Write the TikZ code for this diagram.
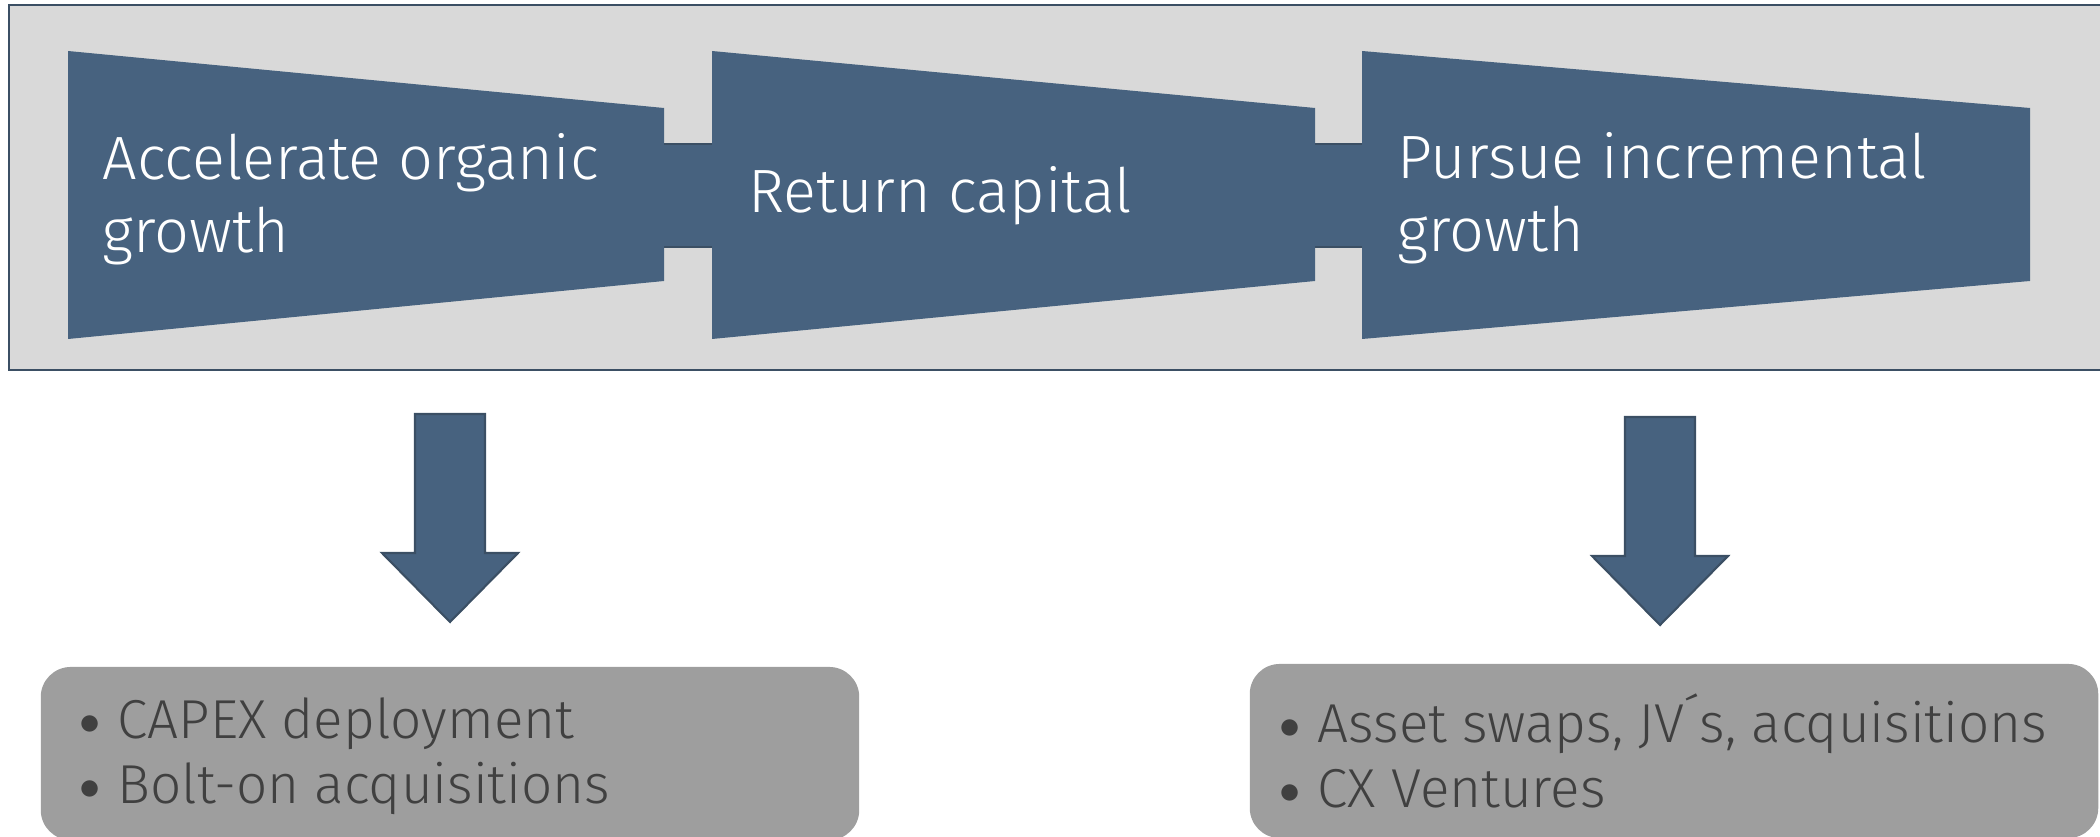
\documentclass[tikz,border=0pt]{standalone}
\usepackage{fontspec}
\setmainfont{Fira Sans Light}
\usepackage{tikz}
\usetikzlibrary{positioning}
\definecolor{stageblue}{HTML}{47627F}
\definecolor{stageedge}{HTML}{3B4F64}
\definecolor{panelgray}{HTML}{D9D9D9}
\definecolor{boxgray}{HTML}{9E9E9E}
\definecolor{listgray}{HTML}{404040}
\newcommand{\bul}{\makebox[0.32cm][l]{\hspace{-0.06cm}\raisebox{1.2pt}{\fontsize{13}{13}\selectfont$\bullet$}}}
\newcommand{\downblock}[1]{\draw[blockarrow] (#1) ++(-35,0) -- ++(70,0) -- ++(0,139) -- ++(33,0) -- ++(-68,69) -- ++(-68,-69) -- ++(33,0) -- cycle;}

\begin{document}
\begin{tikzpicture}[x=0.01cm, y=-0.01cm]

\tikzstyle{panel}=[fill=panelgray,draw=stageedge,line width=0.6pt]
\tikzstyle{stage}=[fill=stageblue]
\tikzstyle{joint}=[draw=stageedge,line width=0.8pt]
\tikzstyle{stagetext}=[anchor=west,align=left,text=white,inner sep=0pt,font=\fontsize{17.4}{20.9}\selectfont]
\tikzstyle{blockarrow}=[fill=stageblue,draw=stageedge,line width=0.6pt,line join=miter]
\tikzstyle{listbox}=[fill=boxgray,rounded corners=0.3cm,inner sep=0pt]
\tikzstyle{listtext}=[anchor=west,align=left,text=listgray,inner sep=0pt,font=\fontsize{15.6}{18.6}\selectfont]

\useasboundingbox (0,0) rectangle (2100,837);
\clip (0,0) rectangle (2100,837);

\draw[panel] (9,5) rectangle (2120,370);

% the three stages
\fill[stage] (68,51) -- (664,108) -- (664,281) -- (68,339) -- cycle;
\fill[stage] (712,51) -- (1315,108) -- (1315,281) -- (712,339) -- cycle;
\fill[stage] (1362,51) -- (2030,108) -- (2030,281) -- (1362,339) -- cycle;
\fill[stage] (664,144) rectangle (712,247);
\fill[stage] (1315,144) rectangle (1362,247);
\draw[joint] (664,144) -- (712,144) (664,247) -- (712,247);
\draw[joint] (1315,144) -- (1362,144) (1315,247) -- (1362,247);

\node[stagetext] (Organic) at (102,199) {Accelerate organic\\growth};
\node[stagetext] (Return) at (748,196) {Return capital};
\node[stagetext] (Incremental) at (1397,198) {Pursue incremental\\growth};

% result boxes
\node[listbox,minimum width=8.18cm,minimum height=1.73cm] (CapexBox) at (450,753.5) {};
\node[listbox,minimum width=8.48cm,minimum height=1.74cm] (VentureBox) at (1674,751) {};
\node[listtext] (CapexList) at ([xshift=0.45cm,yshift=-0.03cm]CapexBox.west) {\bul CAPEX deployment\\\bul Bolt-on acquisitions};
\node[listtext] (VentureList) at ([xshift=0.36cm]VentureBox.west) {\bul Asset swaps, JV´s, acquisitions\\\bul CX Ventures};

\coordinate (ArrowOrganic) at (450,414);
\coordinate (ArrowIncremental) at (1660,417);
\downblock{ArrowOrganic}
\downblock{ArrowIncremental}

\end{tikzpicture}
\end{document}
